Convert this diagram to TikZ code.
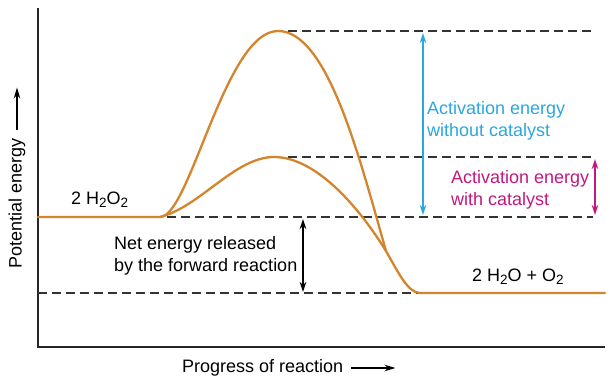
\documentclass[tikz,border=0pt]{standalone}
\usepackage{fontspec}
\setmainfont{Liberation Sans}
\usetikzlibrary{arrows.meta}
\definecolor{curveorange}{HTML}{D4842C}
\definecolor{guidegray}{HTML}{333333}
\definecolor{actblue}{HTML}{2BA6DE}
\definecolor{actmag}{HTML}{C2187E}
\newcommand{\subtwo}{\raisebox{-0.35ex}{\fontsize{13.5}{13.5}\selectfont 2}}
\begin{document}
\begin{tikzpicture}[x=1pt,y=-1pt,
  axis/.style={draw=black!85, line width=1.1pt},
  curve/.style={draw=curveorange, line width=2.3pt, line cap=round, line join=round},
  guide/.style={draw=guidegray, line width=1.2pt, dash pattern=on 9pt off 5pt},
  lbl/.style={font=\fontsize{18}{22}\selectfont, align=left, inner sep=0pt},
  dim/.style={line width=1.4pt, {Stealth[length=10pt,width=6.5pt]}-{Stealth[length=10pt,width=6.5pt]}},
  axarrow/.style={line width=1.3pt, -{Stealth[length=11pt,width=6.5pt]}}
]
\useasboundingbox (0,0) rectangle (610,385);
% axes
\coordinate (ytop) at (38,8);
\coordinate (O) at (38,347);
\coordinate (xend) at (605,347);
\draw[axis] (ytop) -- (O) -- (xend);
% key points
\coordinate (r0) at (38,217);
\coordinate (r1) at (160,217);
\coordinate (pu) at (278,31);
\coordinate (pc) at (274,157);
\coordinate (m) at (386,251);
\coordinate (p0) at (420,293);
\coordinate (p1) at (605,293);
% guides
\coordinate (g1a) at (288,31);  \coordinate (g1b) at (593,31);
\coordinate (g2a) at (288,157); \coordinate (g2b) at (593,157);
\coordinate (g3a) at (167,217); \coordinate (g3b) at (593,217);
\coordinate (g4a) at (38,293);  \coordinate (g4b) at (418,293);
\draw[guide] (g1a) -- (g1b);
\draw[guide] (g2a) -- (g2b);
\draw[guide] (g3a) -- (g3b);
\draw[guide] (g4a) -- (g4b);
% curves
\draw[curve] (r0) -- (r1) .. controls (190,217) and (225,31) .. (pu)
  .. controls (328,31) and (360,160) .. (m)
  .. controls (398,272) and (408,293) .. (p0) -- (p1);
\draw[curve] (r1) .. controls (200,207) and (235,157) .. (pc)
  .. controls (318,157) and (362,212) .. (m);
% dimension arrows
\coordinate (ba) at (423,33);  \coordinate (bb) at (423,215);
\coordinate (ma) at (595,159); \coordinate (mb) at (595,215);
\coordinate (ka) at (303,219); \coordinate (kb) at (303,292);
\draw[dim, actblue] (ba) -- (bb);
\draw[dim, actmag] (ma) -- (mb);
\draw[dim, black] (ka) -- (kb);
% labels
\node[lbl, anchor=west, text=actblue] (tblue) at (427,121) {Activation energy\\without catalyst};
\node[lbl, anchor=west, text=actmag] (tmag) at (451,190) {Activation energy\\with catalyst};
\node[lbl, anchor=west] (tnet) at (114,256) {Net energy released\\by the forward reaction};
\node[lbl, anchor=west] (treact) at (71,200) {2 H\subtwo O\subtwo};
\node[lbl, anchor=west] (tprod) at (472,277) {2 H\subtwo O + O\subtwo};
\node[lbl, anchor=west] (xlab) at (182,368) {Progress of reaction};
\draw[axarrow] ([xshift=8pt]xlab.east) -- ++(44,0);
\node[lbl, rotate=90, anchor=west] (ylab) at (17,269) {Potential energy};
\draw[axarrow] ([yshift=9pt]ylab.east) -- ++(0,-42);
\end{tikzpicture}
\end{document}
